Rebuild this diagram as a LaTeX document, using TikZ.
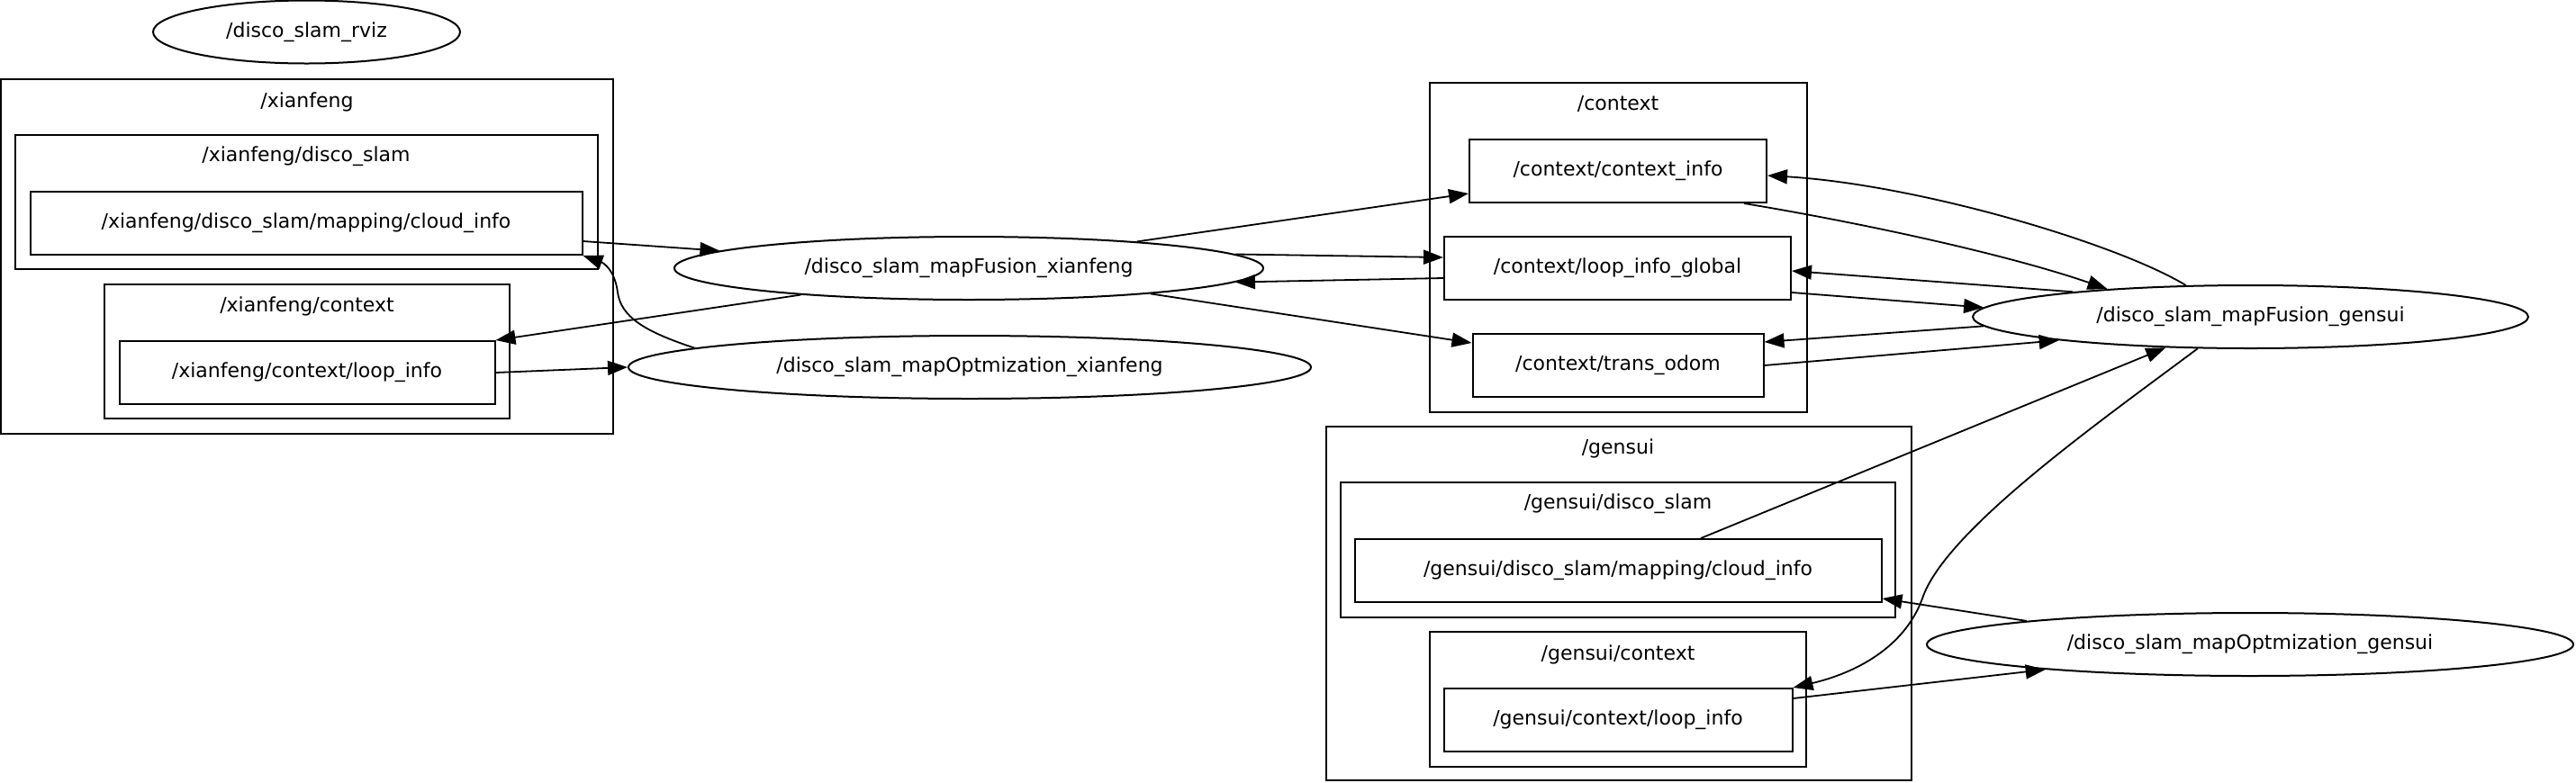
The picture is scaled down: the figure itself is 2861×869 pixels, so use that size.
\documentclass[tikz,border=0pt]{standalone}
\usepackage{fontspec}
\setmainfont{DejaVu Sans}
\usetikzlibrary{arrows.meta,shapes.geometric,calc}

\begin{document}
\begin{tikzpicture}[
    x=0.5pt, y=-0.5pt,
    every node/.style={font=\fontsize{11}{13}\selectfont},
    topic/.style={draw, line width=1pt, minimum height=35pt, inner sep=0pt},
    rosnode/.style={draw, ellipse, line width=1pt, minimum height=35pt, inner sep=0pt},
    group/.style={draw, line width=1pt},
    flow/.style={-{Triangle[length=11pt, width=8pt]}, line width=0.9pt},
]
\useasboundingbox (0,0) rectangle (2861,869);

% === Namespace boxes ===
\draw[group] (1,88) rectangle (681,482);
\node (nsx) at (341,113) {/xianfeng};
\draw[group] (16.5,150) rectangle (664,299);
\node (nsxslam) at (340,174) {/xianfeng/disco\_slam};
\draw[group] (116,316) rectangle (566,465);
\node (nsxctx) at (341,340) {/xianfeng/context};

\draw[group] (1588,92) rectangle (2006.5,458);
\node (nsctx) at (1797,115) {/context};

\draw[group] (1472.5,474) rectangle (2122.5,867);
\node (nsg) at (1797,498) {/gensui};
\draw[group] (1488.6,536) rectangle (2104.6,686);
\node (nsgslam) at (1797,560) {/gensui/disco\_slam};
\draw[group] (1587.7,702) rectangle (2006.4,852);
\node (nsgctx) at (1797,727) {/gensui/context};

% === Nodes ===
\node[rosnode, minimum width=170.5pt] (rviz) at (340.5,35.5) {/disco\_slam\_rviz};
\node[rosnode, minimum width=327pt] (mfx) at (1076,298) {/disco\_slam\_mapFusion\_xianfeng};
\node[rosnode, minimum width=379pt] (mox) at (1077,408) {/disco\_slam\_mapOptmization\_xianfeng};
\node[rosnode, minimum width=308.5pt] (mfg) at (2499.5,352) {/disco\_slam\_mapFusion\_gensui};
\node[rosnode, minimum width=359pt] (mog) at (2499,716) {/disco\_slam\_mapOptmization\_gensui};

% === Topics ===
\node[topic, minimum width=306.5pt] (xcloud) at (340,248) {/xianfeng/disco\_slam/mapping/cloud\_info};
\node[topic, minimum width=208.5pt] (xloop) at (341,414) {/xianfeng/context/loop\_info};
\node[topic, minimum width=165pt] (cinfo) at (1797,190) {/context/context\_info};
\node[topic, minimum width=192.5pt] (cglobal) at (1796.5,298) {/context/loop\_info\_global};
\node[topic, minimum width=161.5pt] (codom) at (1797,406) {/context/trans\_odom};
\node[topic, minimum width=292.5pt] (gcloud) at (1797,634) {/gensui/disco\_slam/mapping/cloud\_info};
\node[topic, minimum width=193.5pt] (gloop) at (1797,800) {/gensui/context/loop\_info};

% === xianfeng side ===
\draw[flow] ($(xcloud.east)+(0,20)$) -- (mfx.176);
\draw[flow] (mfx.189) -- (xloop.north east);
\draw[flow] (xloop.east) -- (mox.west);
\draw[flow] (mox.176) .. controls (715,368) and (690,352) .. (686,325)
    .. controls (683,300) and (670,292) .. (xcloud.south east);

% mapFusion_xianfeng <-> context
\draw[flow] (mfx.9) -- ($(cinfo.west)+(0,25)$);
\draw[flow] (mfx.3) -- ($(cglobal.west)+(0,-12)$);
\draw[flow] ($(cglobal.west)+(0,11)$) -- (mfx.-3);
\draw[flow] (mfx.-8) -- ($(codom.west)+(0,-25)$);

% === gensui side ===
\draw[flow] ($(cinfo.south east)+(-26,0)$) .. controls (2070,248) and (2230,283) .. (mfg.169);
\draw[flow] (mfg.154) .. controls (2350,270) and (2130,205) .. ($(cinfo.east)+(0,5)$);
\draw[flow] (mfg.172) -- ($(cglobal.east)+(0,3)$);
\draw[flow] ($(cglobal.east)+(0,27)$) -- (mfg.178);
\draw[flow] (mfg.182) -- ($(codom.east)+(0,-26)$);
\draw[flow] (codom.east) -- (mfg.187);

\draw[flow] ($(gcloud.north)+(92,0)$) -- (mfg.200);
\draw[flow] (mfg.211) .. controls (2330,470) and (2160,590) .. (2135,665)
    .. controls (2115,720) and (2060,748) .. (gloop.north east);
\draw[flow] (mog.174) -- ($(gcloud.east)+(0,31)$);
\draw[flow] ($(gloop.east)+(0,-24)$) -- (mog.187);

\end{tikzpicture}
\end{document}
